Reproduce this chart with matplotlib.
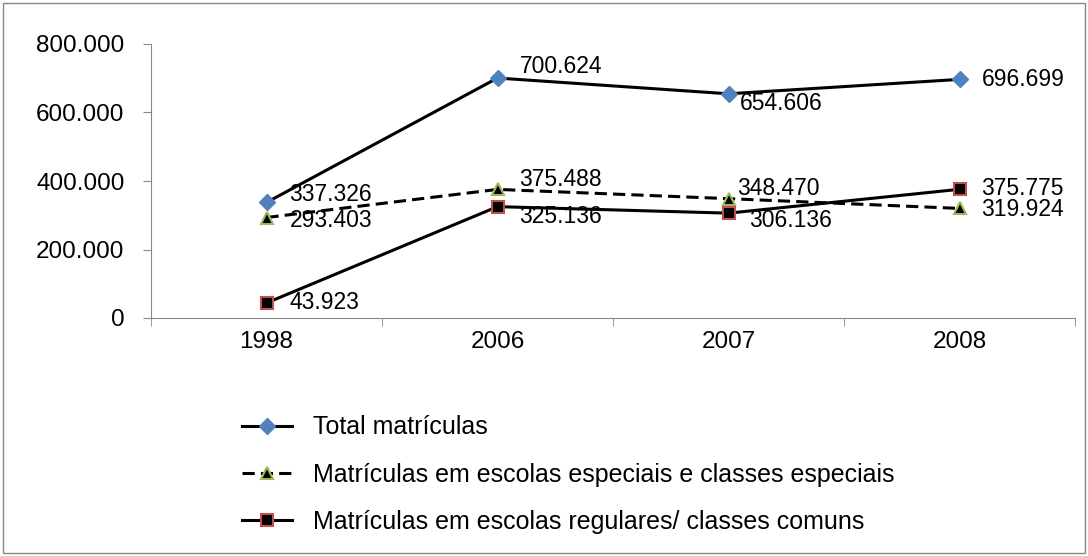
import matplotlib
matplotlib.use("Agg")
import matplotlib.pyplot as plt
from matplotlib.patches import Rectangle
from matplotlib.ticker import FuncFormatter

years = ["1998", "2006", "2007", "2008"]
total = [337326, 700624, 654606, 696699]
especiais = [293403, 375488, 348470, 319924]
regulares = [43923, 325136, 306136, 375775]

label_total = "Total matrículas"
label_especiais = "Matrículas em escolas especiais e classes especiais"
label_regulares = "Matrículas em escolas regulares/ classes comuns"

plt.rcParams.update({
    "font.family": ["Liberation Sans", "DejaVu Sans"],
    "font.size": 17.5,
})


def fmt_thousands(v, _pos=None):
    s = f"{int(round(v)):,}".replace(",", ".")
    return s


fig = plt.figure(figsize=(10.88, 5.56), dpi=100)
fig.patches.append(Rectangle((0.003, 0.006), 0.994, 0.988, transform=fig.transFigure,
                             fill=False, edgecolor="#888888", linewidth=1.0))
ax = fig.add_axes([151 / 1088, 1 - 318 / 556, 924 / 1088, 274 / 556])

x = list(range(len(years)))
ax.plot(x, total, color="black", lw=2.2, marker="D", ms=8,
        mfc="#4F81BD", mec="#4F81BD", label=label_total)
ax.plot(x, especiais, color="black", lw=2.2, ls=(0, (4, 2)), marker="^", ms=9,
        mfc="black", mec="#9BBB59", mew=1.5, label=label_especiais)
ax.plot(x, regulares, color="black", lw=2.2, marker="s", ms=9,
        mfc="black", mec="#C0504D", mew=1.5, label=label_regulares)

# label offsets in pixels (dx, dy)
off_total = [(23, 8), (22, 12), (11, -10), (22, 0)]
off_esp = [(23, -3), (22, 10), (9, 10), (22, -1)]
off_reg = [(23, 0), (22, -10), (21, -7), (22, 1)]
for vals, offs in ((total, off_total), (especiais, off_esp), (regulares, off_reg)):
    for xi, v, (dx, dy) in zip(x, vals, offs):
        ax.annotate(fmt_thousands(v), (xi, v), xytext=(dx, dy),
                    textcoords="offset pixels", ha="left", va="center", fontsize=16.5)

ax.set_xlim(-0.5, 3.5)
ax.set_ylim(0, 800000)
ax.set_yticks([0, 200000, 400000, 600000, 800000])
ax.yaxis.set_major_formatter(FuncFormatter(fmt_thousands))
ax.set_xticks(x)
ax.set_xticklabels(years)
ax.set_xticks([-0.5, 0.5, 1.5, 2.5, 3.5], minor=True)
ax.tick_params(axis="x", which="major", length=0, pad=9)
ax.tick_params(axis="x", which="minor", length=6, color="#888888")
ax.tick_params(axis="y", length=6, color="#888888", pad=13)
for side in ("top", "right"):
    ax.spines[side].set_visible(False)
for side in ("left", "bottom"):
    ax.spines[side].set_color("#888888")

fig.legend(loc="upper left", bbox_to_anchor=(229 / 1088, 1 - 403 / 556),
           frameon=False, borderpad=0, handlelength=2.0, handletextpad=0.85,
           labelspacing=0.93, fontsize=18)

fig.savefig("out.png", dpi=100)
